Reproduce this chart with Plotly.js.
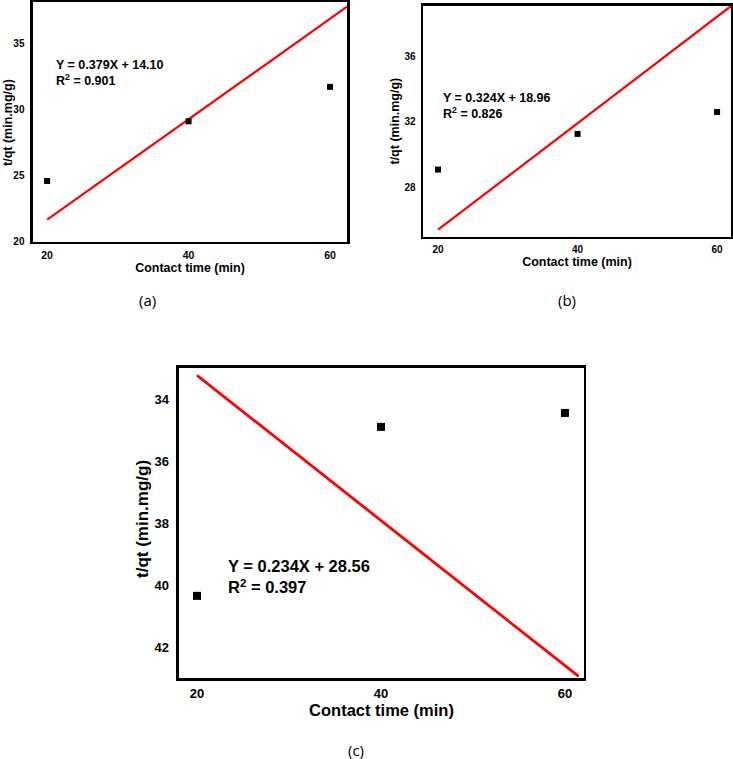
<!DOCTYPE html>
<html>
<head>
<meta charset="utf-8">
<script src="https://cdn.plot.ly/plotly-3.0.1.min.js"></script>
<style>html,body{margin:0;padding:0;background:#fff;}#chart{width:733px;height:759px;}</style>
</head>
<body>
<div id="chart"></div>
<script>
// ---- data ----
var contactTime = [20, 40, 60];
var qtA = [24.6, 29.1, 31.7];
var qtB = [29.1, 31.27, 32.6];
var qtC = [40.35, 34.9, 34.45];

var fitA_x = [20, 62.4];
var fitA_y = [21.68, 37.74];
var fitB_x = [20, 62.0];
var fitB_y = [25.44, 39.05];
var fitC_x = [20, 61.5];
var fitC_y = [33.24, 42.95];

var eqA = "Y = 0.379X + 14.10<br>R<sup>2</sup> = 0.901";
var eqB = "Y = 0.324X + 18.96<br>R<sup>2</sup> = 0.826";
var eqC = "Y = 0.234X + 28.56<br>R<sup>2</sup> = 0.397";

var tickX = [20, 40, 60];
var tickYA = [20, 25, 30, 35];
var tickYB = [28, 32, 36];
var tickYC = [34, 36, 38, 40, 42];

var xTitle = "Contact time (min)";
var yTitle = "t/qt (min.mg/g)";
var panelLabels = ["(a)", "(b)", "(c)"];

// ---- traces ----
var FONT = "Liberation Sans, Arial, sans-serif";
function pts(y, xa, ya, size) {
  return {x: contactTime, y: y, xaxis: xa, yaxis: ya, type: 'scatter', mode: 'markers',
    marker: {symbol: 'square', color: '#000', size: size}, showlegend: false, hoverinfo: 'skip'};
}
function fit(x, y, xa, ya, w) {
  return {x: x, y: y, xaxis: xa, yaxis: ya, type: 'scatter', mode: 'lines',
    line: {color: '#ff0000', width: w}, showlegend: false, hoverinfo: 'skip'};
}
var data = [
  fit(fitA_x, fitA_y, 'x', 'y', 2.2), pts(qtA, 'x', 'y', 6),
  fit(fitB_x, fitB_y, 'x2', 'y2', 2.2), pts(qtB, 'x2', 'y2', 6),
  fit(fitC_x, fitC_y, 'x3', 'y3', 2.8), pts(qtC, 'x3', 'y3', 8)
];

function xax(domain, range, anchor, fs, tfs, standoff, tls) {
  return {domain: domain, range: range, anchor: anchor, tickvals: tickX, ticks: '', showgrid: false, zeroline: false,
    showline: true, mirror: true, linecolor: '#000', linewidth: 2.5, ticklabelstandoff: tls,
    tickfont: {family: FONT, size: fs, weight: 'bold', color: '#000'},
    title: {text: xTitle, standoff: standoff, font: {family: FONT, size: tfs, weight: 'bold', color: '#000'}}};
}
function yax(domain, range, anchor, tv, fs, tls) {
  return {domain: domain, range: range, anchor: anchor, tickvals: tv, ticks: '', showgrid: false, zeroline: false,
    showline: true, mirror: true, linecolor: '#000', linewidth: 2.5, ticklabelstandoff: tls,
    tickfont: {family: FONT, size: fs, weight: 'bold', color: '#000'}};
}
function ytitle(x, y, size) {
  return {text: yTitle, xref: 'paper', yref: 'paper', x: x, y: y, xanchor: 'center', yanchor: 'middle',
    textangle: -90, showarrow: false, font: {family: FONT, size: size, weight: 'bold', color: '#000'}};
}
function plabel(t, x, y) {
  return {text: t, xref: 'paper', yref: 'paper', x: x, y: y, xanchor: 'center', yanchor: 'middle', showarrow: false,
    font: {family: 'Open Sans, sans-serif', size: 15, color: '#000'}};
}
function eq(t, x, y, size) {
  return {text: t, xref: 'paper', yref: 'paper', x: x, y: y, xanchor: 'left', yanchor: 'middle', align: 'left', showarrow: false,
    font: {family: FONT, size: size, weight: 'bold', color: '#000'}};
}

var layout = {
  width: 733, height: 759,
  margin: {l: 0, r: 0, t: 0, b: 0},
  paper_bgcolor: '#fff', plot_bgcolor: '#fff',
  showlegend: false,
  xaxis: xax([0.0450, 0.4734], [18.0, 62.4], 'y', 10.5, 12.5, 0, 2),
  yaxis: yax([0.6812, 0.9974], [20, 38.1], 'x', tickYA, 10, 4),
  xaxis2: xax([0.5771, 0.9973], [17.85, 62.0], 'y2', 10, 12.5, 0, 2),
  yaxis2: yax([0.6878, 0.9921], [25, 39.05], 'x2', tickYB, 10, 3),
  xaxis3: xax([0.2442, 0.7967], [18.04, 62.07], 'y3', 13, 16.5, 0, 2),
  yaxis3: yax([0.1067, 0.5152], [43, 33], 'x3', tickYC, 13, 5),
  annotations: [
    eq(eqA, 0.0737, 0.9032, 12.5),
    eq(eqB, 0.6016, 0.861, 12.5),
    eq(eqC, 0.3083, 0.2404, 16.5),
    ytitle(0.0109, 0.8393, 12.5),
    ytitle(0.5389, 0.8399, 12.5),
    ytitle(0.1937, 0.3162, 17),
    plabel(panelLabels[0], 0.2019, 0.6047),
    plabel(panelLabels[1], 0.7735, 0.6047),
    plabel(panelLabels[2], 0.4857, 0.0119)
  ]
};

Plotly.newPlot('chart', data, layout, {staticPlot: true, displayModeBar: false});
</script>
</body>
</html>
